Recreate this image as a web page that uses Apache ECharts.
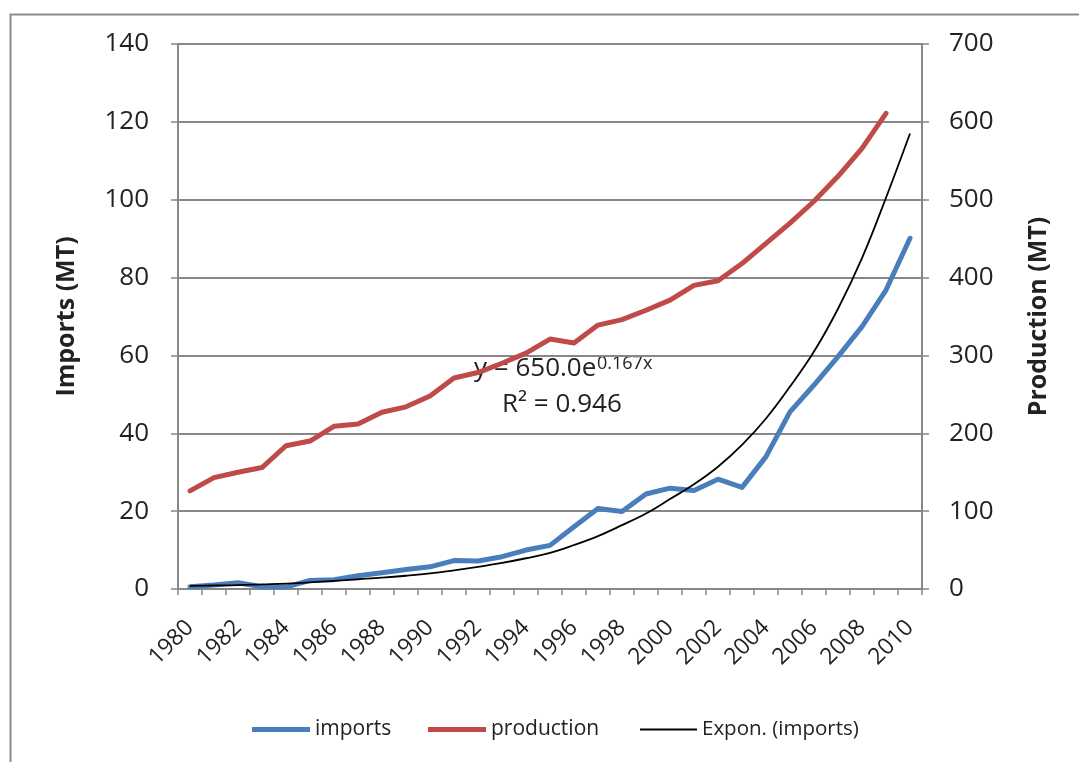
<!DOCTYPE html>
<html>
<head>
<meta charset="utf-8">
<script src="https://cdn.jsdelivr.net/npm/echarts@6/dist/echarts.min.js"></script>
<style>
html,body{margin:0;padding:0;background:#fff;}
#chart{width:1079px;height:762px;}
</style>
</head>
<body>
<div id="chart"></div>
<script>
var years = ['1980','1981','1982','1983','1984','1985','1986','1987','1988','1989','1990','1991','1992','1993','1994','1995','1996','1997','1998','1999','2000','2001','2002','2003','2004','2005','2006','2007','2008','2009','2010'];
var imports = [0.6,1.0,1.6,0.6,0.5,2.2,2.4,3.4,4.2,5.0,5.7,7.3,7.2,8.3,10.0,11.2,16.0,20.7,19.9,24.4,25.9,25.3,28.2,26.1,34.0,45.5,52.4,59.7,67.4,76.8,90.1];
var production = [126,143,150,156,184,190,209,212,227,234,248,271,278,290,303,321,316,339,346,358,371,390,396,418,444,470,498,530,566,611,null];
var trendImports = [0.8,0.9,1.0,1.2,1.4,1.7,2.1,2.5,2.9,3.4,4.0,4.8,5.7,6.7,7.9,9.3,11.3,13.6,16.4,19.4,23.1,26.9,31.4,37.0,43.8,52.0,61.0,72.0,85.0,100.5,117.0];
var leftTicks = {min:0, max:140, interval:20};
var rightTicks = {min:0, max:700, interval:100};

var FONT = '"Open Sans", "Liberation Sans", sans-serif';
var TXT = '#222222';
var GRAY = '#878787';

var chart = echarts.init(document.getElementById('chart'), null, {renderer:'canvas'});
chart.setOption({
  animation:false,
  backgroundColor:'#ffffff',
  textStyle:{fontFamily:FONT},
  grid:{left:178, right:157, top:44, bottom:173, containLabel:false},
  xAxis:{
    type:'category', data:years, boundaryGap:true,
    axisLine:{show:true, lineStyle:{color:GRAY, width:2}},
    axisTick:{show:true, interval:0, length:6, lineStyle:{color:GRAY, width:1.5}},
    axisLabel:{interval:1, rotate:45, fontSize:23, color:TXT, fontFamily:FONT, margin:35},
    splitLine:{show:false}
  },
  yAxis:[{
    type:'value', min:leftTicks.min, max:leftTicks.max, interval:leftTicks.interval, position:'left',
    name:'Imports (MT)', nameLocation:'middle', nameRotate:90, nameGap:99,
    nameTextStyle:{fontSize:25, fontWeight:'bold', color:TXT, fontFamily:FONT},
    axisLine:{show:true, lineStyle:{color:GRAY, width:2}},
    axisTick:{show:true, length:7, lineStyle:{color:GRAY, width:1.5}},
    axisLabel:{fontSize:26, color:TXT, margin:29, fontFamily:FONT},
    splitLine:{show:true, lineStyle:{color:GRAY, width:2}}
  },{
    type:'value', min:rightTicks.min, max:rightTicks.max, interval:rightTicks.interval, position:'right',
    name:'Production (MT)', nameLocation:'middle', nameRotate:90, nameGap:104,
    nameTextStyle:{fontSize:25, fontWeight:'bold', color:TXT, fontFamily:FONT},
    axisLine:{show:true, lineStyle:{color:GRAY, width:2}},
    axisTick:{show:true, length:7, lineStyle:{color:GRAY, width:1.5}},
    axisLabel:{fontSize:26, color:TXT, margin:27, fontFamily:FONT},
    splitLine:{show:false}
  }],
  legend:[{
    data:[{name:'imports'}],
    left:247, top:714, itemWidth:58, itemHeight:5, icon:'rect',
    textStyle:{fontSize:21, color:TXT, fontFamily:FONT}
  },{
    data:[{name:'production'}],
    left:423, top:714, itemWidth:58, itemHeight:5, icon:'rect',
    textStyle:{fontSize:21, color:TXT, fontFamily:FONT}
  },{
    data:[{name:'Expon. (imports)'}],
    left:635, top:714, itemWidth:57, itemHeight:2, icon:'rect',
    textStyle:{fontSize:20.5, color:TXT, fontFamily:FONT}
  }],
  series:[{
    name:'imports', type:'line', yAxisIndex:0, data:imports,
    showSymbol:false, symbol:'none',
    lineStyle:{color:'#4A7EBB', width:5, join:'round', cap:'round'},
    itemStyle:{color:'#4A7EBB'}, z:2
  },{
    name:'production', type:'line', yAxisIndex:1, data:production,
    showSymbol:false, symbol:'none',
    lineStyle:{color:'#BE4B48', width:5, join:'round', cap:'round'},
    itemStyle:{color:'#BE4B48'}, z:2
  },{
    name:'Expon. (imports)', type:'line', yAxisIndex:0, data:trendImports,
    showSymbol:false, symbol:'none', smooth:0.4,
    lineStyle:{color:'#000000', width:1.8},
    itemStyle:{color:'#000000'}, z:3
  }],
  graphic:[{
    type:'rect', left:8, top:12, silent:true,
    shape:{x:0, y:0, width:1100, height:800},
    style:{fill:'none', stroke:'#8c8c8c', lineWidth:2}, z:-1
  },{
    type:'text', left:474, top:356,
    style:{text:'y = 650.0e', font:'26px ' + FONT, fill:TXT}
  },{
    type:'text', left:597, top:355,
    style:{text:'0.167x', font:'18px ' + FONT, fill:TXT}
  },{
    type:'text', left:502, top:392,
    style:{text:'R² = 0.946', font:'26px ' + FONT, fill:TXT}
  }]
});
</script>
</body>
</html>
